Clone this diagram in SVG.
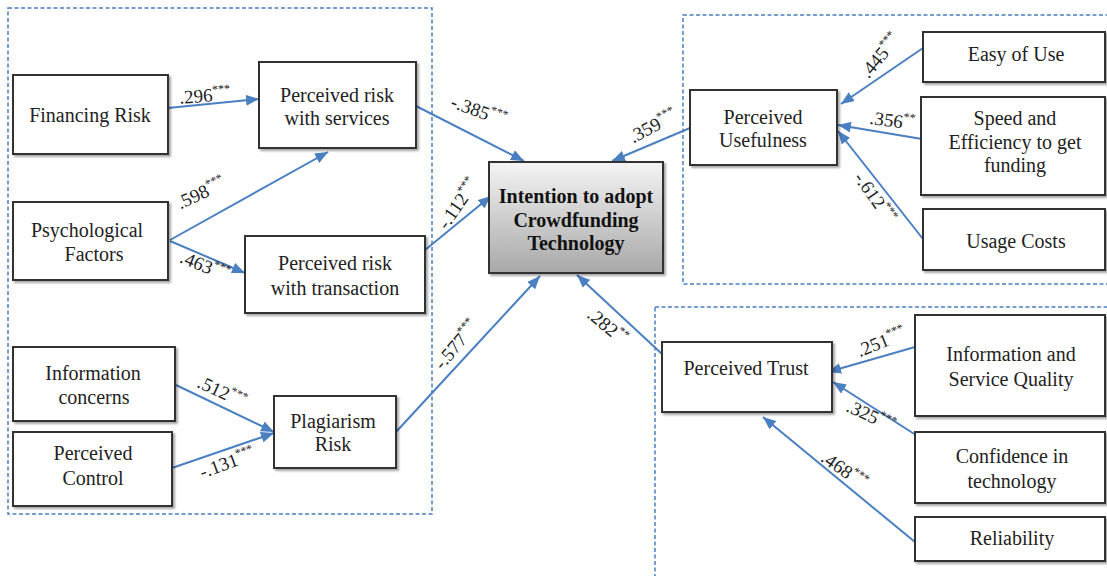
<svg xmlns="http://www.w3.org/2000/svg" width="1107" height="576" viewBox="0 0 1107 576">
<defs>
  <linearGradient id="gc" x1="0" y1="0" x2="0" y2="1">
    <stop offset="0" stop-color="#f4f4f4"/>
    <stop offset="1" stop-color="#a8a8a8"/>
  </linearGradient>
  <filter id="sh" x="-10%" y="-10%" width="130%" height="130%">
    <feGaussianBlur in="SourceAlpha" stdDeviation="1.2"/>
    <feOffset dx="1.5" dy="1.5" result="b"/>
    <feComponentTransfer><feFuncA type="linear" slope="0.35"/></feComponentTransfer>
    <feMerge><feMergeNode/><feMergeNode in="SourceGraphic"/></feMerge>
  </filter>
  <marker id="ah" viewBox="0 0 12 10" refX="12" refY="5" markerWidth="13" markerHeight="11" markerUnits="userSpaceOnUse" orient="auto">
    <path d="M0,0 L12,5 L0,10 Z" fill="#4a7fc1"/>
  </marker>
</defs>
<style>
  .grp{fill:none;stroke:#4a7fc1;stroke-width:1.5;stroke-dasharray:4,2.5}
  .box{fill:#fff;stroke:#333;stroke-width:2;filter:url(#sh)}
  .t{font-family:"Liberation Serif","Times New Roman",serif;font-size:20px;fill:#222;text-anchor:middle}
  .b{font-weight:bold;fill:#111}
  .c{stroke:#4a7fc1;stroke-width:2;fill:none;marker-end:url(#ah)}
  .l{font-family:"Liberation Serif","Times New Roman",serif;font-size:19px;fill:#222;text-anchor:middle}
  .s{font-size:12px}
</style>
<rect width="1107" height="576" fill="#fff"/>

<g id="groups">
  <rect class="grp" x="8" y="8" width="424" height="506"/>
  <rect class="grp" x="683" y="15" width="430" height="269"/>
  <rect class="grp" x="655" y="307" width="460" height="280"/>
</g>

<g id="connectors">
  <line class="c" x1="168" y1="108" x2="259" y2="99"/>
  <line class="c" x1="170" y1="240" x2="328" y2="152"/>
  <line class="c" x1="170" y1="241" x2="245" y2="273"/>
  <line class="c" x1="416" y1="106" x2="524" y2="161"/>
  <line class="c" x1="425" y1="250" x2="491" y2="196"/>
  <line class="c" x1="396" y1="432" x2="540" y2="276"/>
  <line class="c" x1="662" y1="354" x2="577" y2="275"/>
  <line class="c" x1="690" y1="128" x2="612" y2="161"/>
  <line class="c" x1="923" y1="48" x2="841" y2="104"/>
  <line class="c" x1="922" y1="139" x2="838" y2="125"/>
  <line class="c" x1="923" y1="239" x2="838" y2="131"/>
  <line class="c" x1="915" y1="347" x2="828" y2="372"/>
  <line class="c" x1="919" y1="437" x2="833" y2="382"/>
  <line class="c" x1="915" y1="542" x2="763" y2="417"/>
  <line class="c" x1="176" y1="385" x2="274" y2="432"/>
  <line class="c" x1="172" y1="468" x2="274" y2="433"/>
  <text class="l" transform="rotate(-4 205 98)" x="205" y="102">.296<tspan class="s" dy="-8">***</tspan></text>
  <text class="l" transform="rotate(-25 202 195)" x="202" y="199">.598<tspan class="s" dy="-8">***</tspan></text>
  <text class="l" transform="rotate(22 204 268)" x="204" y="272">.463<tspan class="s" dy="-8">***</tspan></text>
  <text class="l" transform="rotate(20 478 113)" x="478" y="117">-.385<tspan class="s" dy="-8">***</tspan></text>
  <text class="l" transform="rotate(-55 460 205)" x="460" y="209">-.112<tspan class="s" dy="-8">***</tspan></text>
  <text class="l" transform="rotate(-50 458 346)" x="458" y="350">-.577<tspan class="s" dy="-8">***</tspan></text>
  <text class="l" transform="rotate(-28 654 128)" x="654" y="132">.359<tspan class="s" dy="-8">***</tspan></text>
  <text class="l" transform="rotate(40 606 328)" x="606" y="332">.282<tspan class="s" dy="-8">**</tspan></text>
  <text class="l" transform="rotate(-50 882 57)" x="882" y="61">.445<tspan class="s" dy="-8">***</tspan></text>
  <text class="l" transform="rotate(8 892 123)" x="892" y="127">.356<tspan class="s" dy="-8">**</tspan></text>
  <text class="l" transform="rotate(55 873 199)" x="873" y="203">-.612<tspan class="s" dy="-8">***</tspan></text>
  <text class="l" transform="rotate(-22 882 344)" x="882" y="348">.251<tspan class="s" dy="-8">***</tspan></text>
  <text class="l" transform="rotate(25 870 418)" x="870" y="422">.325<tspan class="s" dy="-8">***</tspan></text>
  <text class="l" transform="rotate(35 843 472)" x="843" y="476">.468<tspan class="s" dy="-8">***</tspan></text>
  <text class="l" transform="rotate(25 221 394)" x="221" y="398">.512<tspan class="s" dy="-8">***</tspan></text>
  <text class="l" transform="rotate(-20 228 465)" x="228" y="469">-.131<tspan class="s" dy="-8">***</tspan></text>
</g>

<g id="financing-risk">
  <rect class="box" x="13" y="75" width="155" height="79"/>
  <text class="t" x="90" y="122">Financing Risk</text>
</g>
<g id="perceived-risk-services">
  <rect class="box" x="259" y="62" width="157" height="86"/>
  <text class="t" x="337" y="102">Perceived risk</text>
  <text class="t" x="337" y="125">with services</text>
</g>
<g id="psychological-factors">
  <rect class="box" x="13" y="202" width="155" height="78"/>
  <text class="t" x="87" y="237">Psychological</text>
  <text class="t" x="94" y="261">Factors</text>
</g>
<g id="perceived-risk-transaction">
  <rect class="box" x="245" y="236" width="180" height="77"/>
  <text class="t" x="335" y="270">Perceived risk</text>
  <text class="t" x="335" y="295">with transaction</text>
</g>
<g id="information-concerns">
  <rect class="box" x="13" y="347" width="162" height="74"/>
  <text class="t" x="93" y="380">Information</text>
  <text class="t" x="94" y="404">concerns</text>
</g>
<g id="perceived-control">
  <rect class="box" x="13" y="432" width="159" height="74"/>
  <text class="t" x="93" y="460">Perceived</text>
  <text class="t" x="93" y="485">Control</text>
</g>
<g id="plagiarism-risk">
  <rect class="box" x="274" y="396" width="122" height="72"/>
  <text class="t" x="333" y="428">Plagiarism</text>
  <text class="t" x="333" y="451">Risk</text>
</g>
<g id="intention">
  <rect class="box" x="489" y="162" width="174" height="111" style="fill:url(#gc)"/>
  <text class="t b" x="576" y="203">Intention to adopt</text>
  <text class="t b" x="576" y="227">Crowdfunding</text>
  <text class="t b" x="576" y="250">Technology</text>
</g>
<g id="perceived-usefulness">
  <rect class="box" x="690" y="90" width="147" height="75"/>
  <text class="t" x="763" y="124">Perceived</text>
  <text class="t" x="763" y="147">Usefulness</text>
</g>
<g id="easy-of-use">
  <rect class="box" x="923" y="32" width="182" height="50"/>
  <text class="t" x="1016" y="61">Easy of Use</text>
</g>
<g id="speed-efficiency">
  <rect class="box" x="921" y="97" width="184" height="98"/>
  <text class="t" x="1015" y="125">Speed and</text>
  <text class="t" x="1015" y="149">Efficiency to get</text>
  <text class="t" x="1015" y="172">funding</text>
</g>
<g id="usage-costs">
  <rect class="box" x="923" y="209" width="182" height="61"/>
  <text class="t" x="1016" y="248">Usage Costs</text>
</g>
<g id="perceived-trust">
  <rect class="box" x="662" y="342" width="170" height="70"/>
  <text class="t" x="746" y="375">Perceived Trust</text>
</g>
<g id="info-service-quality">
  <rect class="box" x="915" y="315" width="190" height="101"/>
  <text class="t" x="1011" y="361">Information and</text>
  <text class="t" x="1011" y="386">Service Quality</text>
</g>
<g id="confidence-technology">
  <rect class="box" x="915" y="432" width="190" height="71"/>
  <text class="t" x="1012" y="463">Confidence in</text>
  <text class="t" x="1012" y="488">technology</text>
</g>
<g id="reliability">
  <rect class="box" x="915" y="517" width="190" height="44"/>
  <text class="t" x="1012" y="545">Reliability</text>
</g>
</svg>
